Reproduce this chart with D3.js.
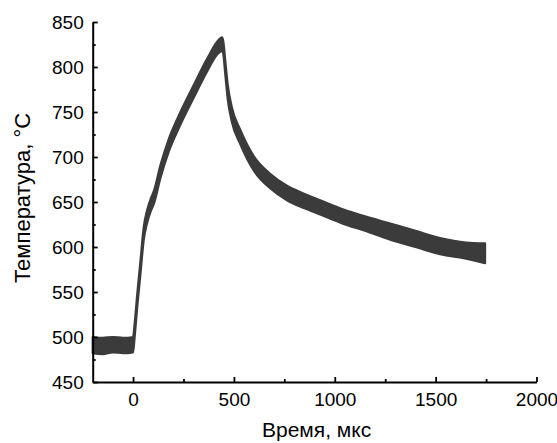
<!DOCTYPE html>
<html>
<head>
<meta charset="utf-8">
<script src="https://cdn.jsdelivr.net/npm/d3@7"></script>
<style>
  html, body { margin: 0; padding: 0; background: #fff; }
  svg { display: block; }
  text { font-family: "Liberation Sans", Arial, Helvetica, sans-serif; fill: #000; }
</style>
</head>
<body>
<svg id="chart" width="557" height="443"></svg>
<script>
// ---- data ----
const timeUs = [-200, -150, -100, -50, 0, 8, 21, 37, 53, 70, 90, 103, 136, 177, 235, 301, 367, 417, 441,
                447, 458, 469, 490, 532, 598, 681, 763, 850, 928, 1040, 1150, 1275, 1400, 1522, 1650, 1745];
const tempUpper = [500, 499, 500, 499, 500, 515, 548, 585, 622, 641, 655, 662, 691, 720, 750, 780, 809, 828, 833,
                   829, 805, 781, 755, 730, 701, 681, 668, 659, 652, 642, 634, 626, 618, 610, 605, 604];
const tempLower = [482, 481, 483, 482, 483, 500, 534, 571, 608, 627, 641, 648, 677, 706, 736, 766, 795, 814, 818,
                   815, 790, 765, 739, 714, 685, 665, 652, 643, 636, 626, 618, 608, 600, 592, 587, 582];

const xMajorTicks = [0, 500, 1000, 1500, 2000];
const xMinorTicks = [250, 750, 1250, 1750];
const yMajorTicks = [450, 500, 550, 600, 650, 700, 750, 800, 850];
const yMinorTicks = [475, 525, 575, 625, 675, 725, 775, 825];
const xTitle = "Время, мкс";
const yTitle = "Температура, °C";

(function () {
// ---- layout ----
const svg = d3.select("#chart");
const pLeft = 92.7, pRight = 536.5, pTop = 22, pBottom = 382;

const x = d3.scaleLinear().domain([-200, 2000]).range([pLeft, pRight]);
const y = d3.scaleLinear().domain([450, 850]).range([pBottom, pTop]);

const data = timeUs.map((t, i) => ({ t, hi: tempUpper[i], lo: tempLower[i] }));

const area = d3.area()
  .x(d => x(d.t))
  .y0(d => y(d.lo))
  .y1(d => y(d.hi))
  .curve(d3.curveMonotoneX);

svg.append("path")
  .datum(data)
  .attr("d", area)
  .attr("fill", "#3b3b3b")
  .attr("stroke", "#3b3b3b")
  .attr("stroke-width", 2.2)
  .attr("stroke-linejoin", "round");

// ---- axes ----
function styleAxis(g) {
  g.selectAll(".domain").attr("stroke", "#000").attr("stroke-width", 2);
  g.selectAll(".tick line").attr("stroke", "#000").attr("stroke-width", 1.8);
  g.selectAll(".tick text").style("font-size", "19px").attr("fill", "#000");
}

const xAxis = svg.append("g")
  .attr("transform", `translate(0,${pBottom})`)
  .call(d3.axisBottom(x).tickValues(xMajorTicks).tickFormat(d3.format("d"))
        .tickSizeInner(-5).tickSizeOuter(0).tickPadding(11));
styleAxis(xAxis);

const xMinor = svg.append("g")
  .attr("transform", `translate(0,${pBottom})`)
  .call(d3.axisBottom(x).tickValues(xMinorTicks).tickFormat("")
        .tickSizeInner(-3).tickSizeOuter(0));
xMinor.select(".domain").remove();
styleAxis(xMinor);

const yAxis = svg.append("g")
  .attr("transform", `translate(${pLeft},0)`)
  .call(d3.axisLeft(y).tickValues(yMajorTicks).tickFormat(d3.format("d"))
        .tickSizeInner(-5).tickSizeOuter(0).tickPadding(9));
styleAxis(yAxis);

const yMinor = svg.append("g")
  .attr("transform", `translate(${pLeft},0)`)
  .call(d3.axisLeft(y).tickValues(yMinorTicks).tickFormat("")
        .tickSizeInner(-3).tickSizeOuter(0));
yMinor.select(".domain").remove();
styleAxis(yMinor);

// ---- titles ----
svg.append("text")
  .attr("x", (pLeft + pRight) / 2 + 2)
  .attr("y", 437)
  .attr("text-anchor", "middle")
  .style("font-size", "21px")
  .text(xTitle);

svg.append("text")
  .attr("transform", `translate(30,198) rotate(-90)`)
  .attr("text-anchor", "middle")
  .style("font-size", "22px")
  .text(yTitle);
})();
</script>
</body>
</html>
